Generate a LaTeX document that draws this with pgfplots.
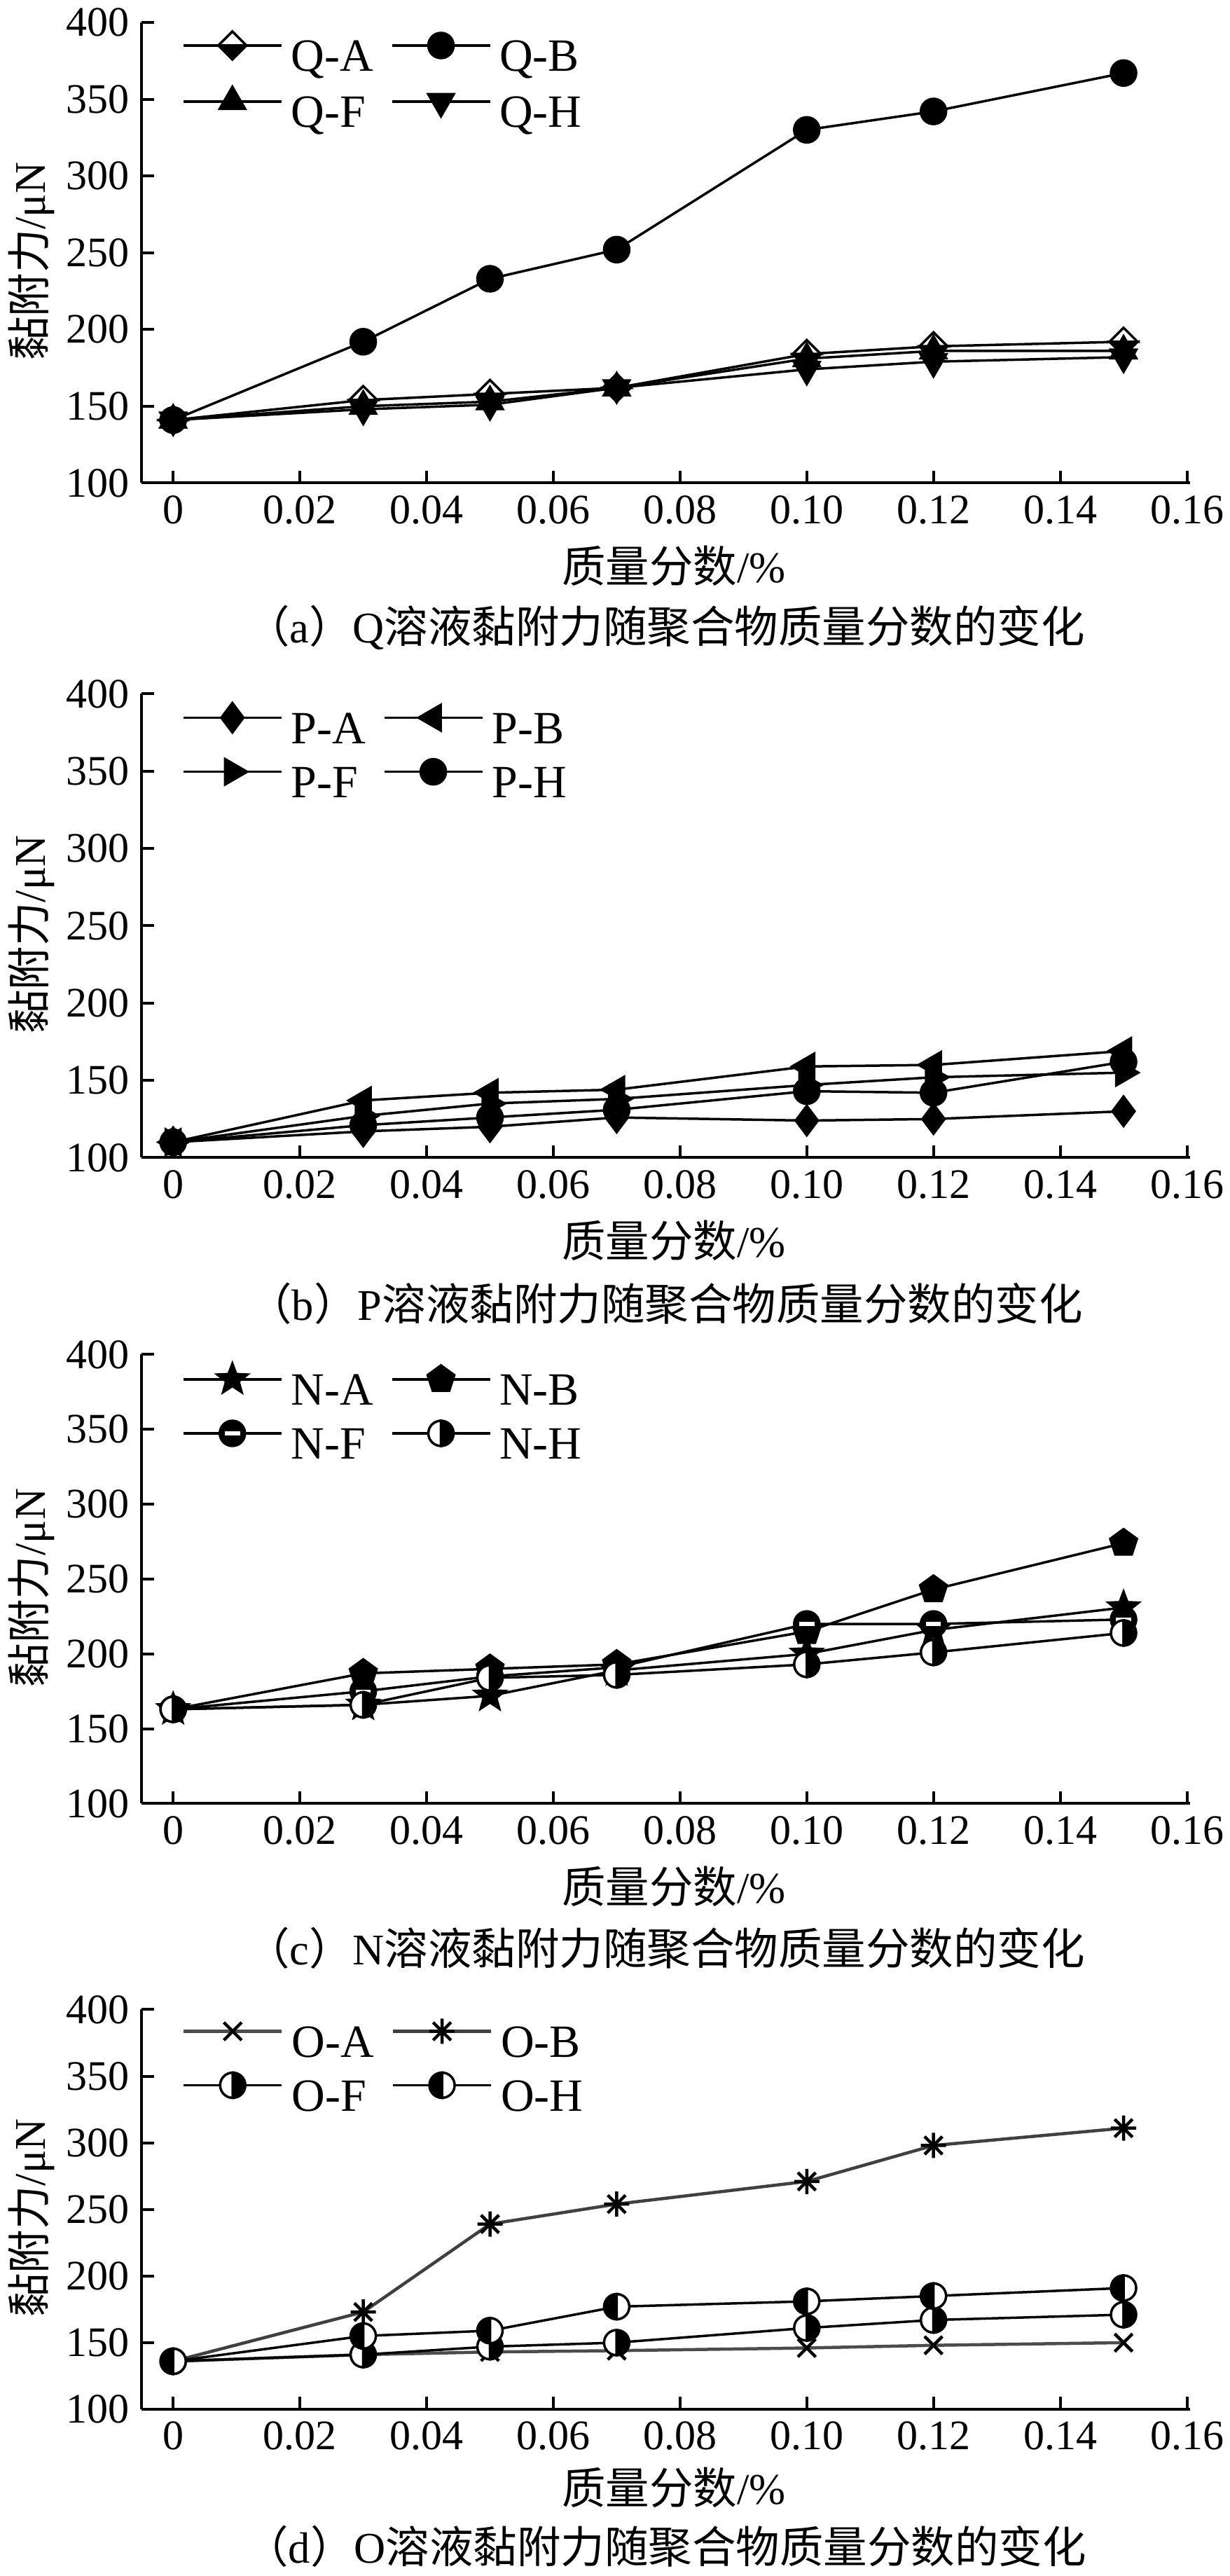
\documentclass[border=0pt]{standalone}
\usepackage{fontspec}
\setmainfont{Liberation Serif}
\newfontfamily\cjk{Noto Sans CJK SC}
\usepackage{pgfplots}
\usepackage{pgfplotstable}
\pgfplotsset{compat=1.18}
\usetikzlibrary{plotmarks}

% custom marks
\pgfdeclareplotmark{hdiamond}{%
 \pgfsetfillcolor{white}%
 \pgfpathmoveto{\pgfqpoint{-\pgfplotmarksize}{0pt}}%
 \pgfpathlineto{\pgfqpoint{0pt}{\pgfplotmarksize}}%
 \pgfpathlineto{\pgfqpoint{\pgfplotmarksize}{0pt}}%
 \pgfpathclose
 \pgfusepathqfillstroke
 \pgfsetfillcolor{black}%
 \pgfpathmoveto{\pgfqpoint{-\pgfplotmarksize}{0pt}}%
 \pgfpathlineto{\pgfqpoint{0pt}{-\pgfplotmarksize}}%
 \pgfpathlineto{\pgfqpoint{\pgfplotmarksize}{0pt}}%
 \pgfpathclose
 \pgfusepathqfillstroke
}
\pgfdeclareplotmark{hcircLW}{% left white, right black
 \pgfsetfillcolor{white}%
 \pgfpathmoveto{\pgfqpoint{0pt}{\pgfplotmarksize}}%
 \pgfpatharc{90}{270}{\pgfplotmarksize}%
 \pgfpathclose
 \pgfusepathqfillstroke
 \pgfsetfillcolor{black}%
 \pgfpathmoveto{\pgfqpoint{0pt}{-\pgfplotmarksize}}%
 \pgfpatharc{270}{450}{\pgfplotmarksize}%
 \pgfpathclose
 \pgfusepathqfillstroke
}
\pgfdeclareplotmark{hcircLB}{% left black, right white
 \pgfsetfillcolor{black}%
 \pgfpathmoveto{\pgfqpoint{0pt}{\pgfplotmarksize}}%
 \pgfpatharc{90}{270}{\pgfplotmarksize}%
 \pgfpathclose
 \pgfusepathqfillstroke
 \pgfsetfillcolor{white}%
 \pgfpathmoveto{\pgfqpoint{0pt}{-\pgfplotmarksize}}%
 \pgfpatharc{270}{450}{\pgfplotmarksize}%
 \pgfpathclose
 \pgfusepathqfillstroke
}
\pgfdeclareplotmark{scirc}{% black circle with white band
 \pgfsetfillcolor{black}%
 \pgfpathcircle{\pgfpointorigin}{\pgfplotmarksize}%
 \pgfusepathqfillstroke
 \pgfsetfillcolor{white}%
 \pgfpathrectangle{\pgfqpoint{-0.6\pgfplotmarksize}{-0.15\pgfplotmarksize}}{\pgfqpoint{1.2\pgfplotmarksize}{0.3\pgfplotmarksize}}%
 \pgfusepathqfill
}
\pgfdeclareplotmark{fstar}{%
 \pgfsetfillcolor{black}%
 \pgfpathmoveto{\pgfpointpolar{90}{\pgfplotmarksize}}%
 \pgfpathlineto{\pgfpointpolar{126}{0.42\pgfplotmarksize}}%
 \pgfpathlineto{\pgfpointpolar{162}{\pgfplotmarksize}}%
 \pgfpathlineto{\pgfpointpolar{198}{0.42\pgfplotmarksize}}%
 \pgfpathlineto{\pgfpointpolar{234}{\pgfplotmarksize}}%
 \pgfpathlineto{\pgfpointpolar{270}{0.42\pgfplotmarksize}}%
 \pgfpathlineto{\pgfpointpolar{306}{\pgfplotmarksize}}%
 \pgfpathlineto{\pgfpointpolar{342}{0.42\pgfplotmarksize}}%
 \pgfpathlineto{\pgfpointpolar{18}{\pgfplotmarksize}}%
 \pgfpathlineto{\pgfpointpolar{54}{0.42\pgfplotmarksize}}%
 \pgfpathclose
 \pgfusepathqfillstroke
}
\pgfdeclareplotmark{star8}{%
 \pgfpathmoveto{\pgfqpoint{-\pgfplotmarksize}{0pt}}\pgfpathlineto{\pgfqpoint{\pgfplotmarksize}{0pt}}%
 \pgfpathmoveto{\pgfqpoint{0pt}{-\pgfplotmarksize}}\pgfpathlineto{\pgfqpoint{0pt}{\pgfplotmarksize}}%
 \pgfpathmoveto{\pgfpointpolar{45}{\pgfplotmarksize}}\pgfpathlineto{\pgfpointpolar{225}{\pgfplotmarksize}}%
 \pgfpathmoveto{\pgfpointpolar{135}{\pgfplotmarksize}}\pgfpathlineto{\pgfpointpolar{315}{\pgfplotmarksize}}%
 \pgfusepathqstroke
}

\pgfplotstableread{
x A B F H
0    141 141 141 141
0.03 154 192 150 148
0.05 158 233 153 151
0.07 162 252 162 162
0.10 184 330 181 174
0.12 189 342 186 179
0.15 192 367 186 182
}\tabQ
\pgfplotstableread{
x A B F H
0    110 110 110 110
0.03 117 137 127 121
0.05 120 142 135 126
0.07 126 144 138 131
0.10 124 159 147 143
0.12 125 160 152 142
0.15 130 169 155 162
}\tabP
\pgfplotstableread{
x A B F H
0    163 163 163 163
0.03 166 187 175 166
0.05 172 190 185 184
0.07 189 193 191 186
0.10 200 215 220 193
0.12 216 243 220 201
0.15 231 274 223 214
}\tabN
\pgfplotstableread{
x A B F H
0    136 136 136 136
0.03 141 173 141 155
0.05 143 239 147 159
0.07 144 254 150 177
0.10 146 271 161 181
0.12 148 298 167 185
0.15 150 311 171 191
}\tabO

\pgfplotsset{
 myaxis/.style={
  scale only axis, width=299.4pt,
  xmin=-0.005, xmax=0.1605, ymin=100, ymax=400,
  axis x line*=bottom, axis y line*=left,
  xtick={0,0.02,0.04,0.06,0.08,0.10,0.12,0.14,0.16},
  xticklabels={0,0.02,0.04,0.06,0.08,0.10,0.12,0.14,0.16},
  ytick={100,150,200,250,300,350,400},
  tick align=inside, major tick length=3.5pt,
  every tick/.style={black, line width=0.8pt},
  axis line style={line width=0.8pt, black},
  tick label style={font=\fontsize{12}{12}\selectfont},
  /pgf/number format/assume math mode=true,
  clip=false,
  legend columns=2,
  legend cell align=left,
  legend style={at={(axis description cs:0,1)}, anchor=north west,
    xshift=11.4pt, yshift=-2.4pt, draw=none, fill=none, inner sep=0pt,
    row sep=1.4pt,
    font=\fontsize{13.2}{13.2}\selectfont,
    nodes={inner sep=0pt, text height=9pt, text depth=3pt},
    /tikz/every odd column/.append style={column sep=2.4pt},
    /tikz/every even column/.append style={column sep=5pt}},
  legend image code/.code={\draw[mark repeat=2,mark phase=2,##1] plot coordinates {(0pt,4.4pt)(14pt,4.4pt)(28pt,4.4pt)};},
 },
 ln/.style={black, line width=0.7pt, mark size=3.6pt, mark options={solid, black, fill=black}},
}
\newcommand{\bigfont}{\fontsize{12.5}{14}\selectfont}

\begin{document}
\begin{tikzpicture}
\useasboundingbox (0,0) rectangle (351pt,735.4pt);

% ---------- (a) ----------
\begin{axis}[myaxis, at={(40.4pt,597.5pt)}, anchor=south west, height=131.5pt]
\addplot[ln, mark=hdiamond, mark size=4pt] table[x=x,y=A]{\tabQ}; \addlegendentry{Q-A}
\addplot[ln, mark=*] table[x=x,y=B]{\tabQ}; \addlegendentry{Q-B}
\addplot[ln, mark=triangle*, mark size=4.2pt] table[x=x,y=F]{\tabQ}; \addlegendentry{Q-F}
\addplot[ln, mark=triangle*, mark size=4.2pt, mark options={solid,black,fill=black,rotate=180}] table[x=x,y=H]{\tabQ}; \addlegendentry{Q-H}
\end{axis}
\node[rotate=90, font=\bigfont] at (9pt, 660.75pt) {{\cjk 黏附力}/μN};
\node[font=\bigfont] at (192.4pt, 573.9pt) {{\cjk 质量分数}/\%};
\node[font=\bigfont] at (190pt, 556.3pt) {{\cjk （}a{\cjk ）}Q{\cjk 溶液黏附力随聚合物质量分数的变化}};

% ---------- (b) ----------
\begin{axis}[myaxis, at={(40.4pt,404.9pt)}, anchor=south west, height=132.4pt]
\addplot[ln, mark=diamond*, mark size=4.2pt] table[x=x,y=A]{\tabP}; \addlegendentry{P-A}
\addplot[ln, mark=triangle*, mark size=4.2pt, mark options={solid,black,fill=black,rotate=90}] table[x=x,y=B]{\tabP}; \addlegendentry{P-B}
\addplot[ln, mark=triangle*, mark size=4.2pt, mark options={solid,black,fill=black,rotate=-90}] table[x=x,y=F]{\tabP}; \addlegendentry{P-F}
\addplot[ln, mark=*] table[x=x,y=H]{\tabP}; \addlegendentry{P-H}
\end{axis}
\node[rotate=90, font=\bigfont] at (9pt, 468.6pt) {{\cjk 黏附力}/μN};
\node[font=\bigfont] at (192.4pt, 381.3pt) {{\cjk 质量分数}/\%};
\node[font=\bigfont] at (190pt, 363.3pt) {{\cjk （}b{\cjk ）}P{\cjk 溶液黏附力随聚合物质量分数的变化}};

% ---------- (c) ----------
\begin{axis}[myaxis, at={(40.4pt,220.5pt)}, anchor=south west, height=128.2pt]
\addplot[ln, mark=fstar, mark size=4.5pt] table[x=x,y=A]{\tabN}; \addlegendentry{N-A}
\addplot[ln, mark=pentagon*, mark size=4pt] table[x=x,y=B]{\tabN}; \addlegendentry{N-B}
\addplot[ln, mark=scirc] table[x=x,y=F]{\tabN}; \addlegendentry{N-F}
\addplot[ln, mark=hcircLW] table[x=x,y=H]{\tabN}; \addlegendentry{N-H}
\end{axis}
\node[rotate=90, font=\bigfont] at (9pt, 282.1pt) {{\cjk 黏附力}/μN};
\node[font=\bigfont] at (192.4pt, 196.9pt) {{\cjk 质量分数}/\%};
\node[font=\bigfont] at (190pt, 179.3pt) {{\cjk （}c{\cjk ）}N{\cjk 溶液黏附力随聚合物质量分数的变化}};

% ---------- (d) ----------
\begin{axis}[myaxis, at={(40.4pt,47.6pt)}, anchor=south west, height=114.1pt]
\addplot[ln, draw=black!70, line width=0.9pt, mark=x, mark size=3.6pt] table[x=x,y=A]{\tabO}; \addlegendentry{O-A}
\addplot[ln, draw=black!75, line width=0.9pt, mark=star8, mark size=3.6pt] table[x=x,y=B]{\tabO}; \addlegendentry{O-B}
\addplot[ln, mark=hcircLW] table[x=x,y=F]{\tabO}; \addlegendentry{O-F}
\addplot[ln, mark=hcircLB] table[x=x,y=H]{\tabO}; \addlegendentry{O-H}
\end{axis}
\node[rotate=90, font=\bigfont] at (9pt, 102.2pt) {{\cjk 黏附力}/μN};
\node[font=\bigfont] at (192.4pt, 25.2pt) {{\cjk 质量分数}/\%};
\node[font=\bigfont] at (190pt, 8.4pt) {{\cjk （}d{\cjk ）}O{\cjk 溶液黏附力随聚合物质量分数的变化}};
\end{tikzpicture}
\end{document}
